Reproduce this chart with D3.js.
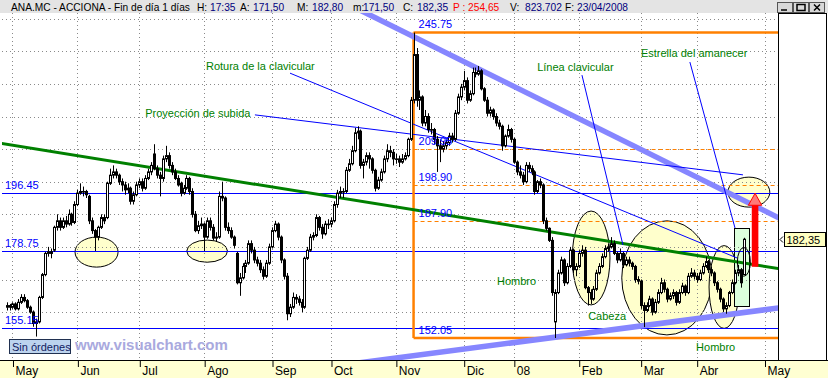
<!DOCTYPE html>
<html>
<head>
<meta charset="utf-8">
<script src="https://cdn.jsdelivr.net/npm/d3@7"></script>
<style>
body { margin: 0; background: #fff; }
svg { display: block; font-family: "Liberation Sans", Arial, sans-serif; }
</style>
</head>
<body>
<div id="chart"></div>
<script>
// ANA.MC daily candles, late Apr 2007 .. 23 Apr 2008
const monthLabels = ["May", "Jun", "Jul", "Ago", "Sep", "Oct", "Nov", "Dic", "08", "Feb", "Mar", "Abr", "May"];
const monthStarts = [2, 24, 45, 67, 90, 110, 132, 155, 172, 194, 215, 234, 257];
const priceTicks = [160, 170, 180, 190, 200, 210, 220, 230, 240, 250];

// [open, high, low, close]
const candles = [
  [161.5,163,160.5,162],[162,162.5,160.5,161.5],[161.5,163,161,162.5],[162.5,163,160.5,161],[161,164,160.5,163],
  [163,165.5,162.5,164.5],[164.5,165.5,163,163.5],[163.5,164,161,161.5],[161.5,162,159.5,160],[160,160.5,155.5,156.5],
  [156.5,158,152.5,157],[157,165,156.5,164.5],[164.5,172,164,171.5],[171.5,178.5,171,178],[178,180,177,178.5],
  [178.5,179.5,176.5,178],[179,186.5,178.5,186],[186,190,185,188],[188,189,185,186],[186,189,185.5,188],
  [188,189.5,186,187],[187,191.5,186.5,190],[190,190.5,186.5,187.5],[187.5,194,187,193],[193,197.5,192.5,196.5],
  [196.5,199.5,196,197],[197,198.5,195.5,197],[197,197.5,195,196],[195.5,196,187,188],[188,189,184,185],
  [185,185.5,178.75,183],[183,186.5,182,186],[186,190,185.5,189],[189,190,187,188],[189,200,188.5,199.5],
  [199.5,204,199,202],[202,205,201,203],[203,204,201,202],[202,202.5,199,200],[200,201,197,199],
  [199,200,196,197.5],[197.5,199.5,196.5,198],[198,198.5,193,194],[194,197,193,196],[196,200,195.5,199],
  [199,201,198,200],[200,201,197,198],[198,202,197.5,201],[201,204,200.5,203],[203,206,202,205],
  [208.5,211.5,203.5,204],[204,205,201,202],[202,203,195.5,201],[201,208,200,207],[207,211,206,208],
  [208,209,204,205],[205,206,202,203],[203,204,200.5,201],[201,202,198.5,199],[199.5,200,195.5,196.5],
  [196.5,199,196,198],[198,202,197.5,201],[201,201.5,196,197],[197,198,189,190],[190,191,184.5,185],
  [185,188,184,186.5],[186.5,189,185.5,187],[187,187.5,178.75,183],[183,189,182.5,188],[188,189,185,186],
  [186,187,182,182.7],[182.7,184.5,181.5,183],[183,197,182.5,195.5],[195.5,200,194,195],[195,195.5,185,186],
  [186,187.5,184,185],[185,186,182.5,183],[183,183.5,179.5,180.5],[178,178.5,168.5,169],[169,172,165,170.5],
  [170.5,175,170,174],[174,176,172,175],[175,182,174.5,181],[181,182,178,179],[179,180,175,176],
  [176,177,174,175],[175,176,172,173],[173,174,170,171],[171,176,170.5,175],[175,181,174.5,180],
  [180,186,179.5,185],[185,188,184.5,187],[187,187.5,182,183],[183,183.5,175,176],[176,176.5,170,171],
  [171,172,157.5,159.5],[159.5,162.5,158.5,161.5],[161.5,166,161,164.5],[164.5,165.5,162.5,164],[164,165,162,163],
  [163,164,160,161.5],[161.5,177,161,176.5],[176.5,180,176,179],[179,184,178.5,183],[183,184.5,182,183.5],
  [183.5,190,183,189],[189,189.5,185,186],[186,187,182.5,184],[184,188,183.5,187],[187,188.5,185.5,187],
  [187,189,186,188],[188,194,187.5,193],[193,197.5,192,196.5],[196.5,198.5,195,197],[197,198,195,197],
  [197,204.5,196.5,203.5],[203.5,207,203,205.5],[205.5,211,205,209.5],[209.5,216.5,209,215],[215,217,213,215.5],
  [215.5,216,204,205],[205,207,201,206],[206,209,205,208],[208,209,204,207],[207,207.5,202.5,203.5],
  [203.5,204,197,198],[198,201.5,197.5,200.5],[200.5,204,200,203],[203,208,202.5,207],[207,211.5,206,209.5],
  [209.5,211,207.5,209],[209,210,205,207],[207,208.5,205.5,207],[207,208,204.5,206],[206,208.5,205.5,207],
  [207,209,206.5,208],[208,213.5,207.5,213],[213,226,212.5,225],[225,245.75,224,239],[239,241,223,225],
  [225,228,222,226],[226,226.5,217,218],[218,222,217,220],[220,221,215,216],[216,218,214.5,216],
  [216,216.5,211.5,213],[213,214,203,211],[211,213,206,210],[210,212.5,209,211],[211,213,210,212],
  [212,215,211,214],[214,215,212,213],[213,222,212.5,221],[221,227,220.5,226],[226,230,225,229],
  [229,234,228,231],[231,232,224,225],[225,228,224.5,227],[227,235,226.5,233.5],[233.5,235,232,233],
  [233,235.5,232.5,234],[234,234.5,228,228.5],[228.5,229,224.5,225],[225,226,220,221],[221,223,220,222],
  [222,222.5,219,220],[220,221,217,218],[218,219,216,217],[217,217.5,209.5,211],[211,214.5,210.5,214],
  [214,217.5,213.5,216],[216,216.5,212,213],[213,213.5,205.5,206],[206,206.5,202,203],[203,205,201,202],
  [202,203,199,200],[200,206,199.5,205],[205,206,203,204],[204,205,202,203],[203,203.5,196,197],
  [197,200.5,196.5,200],[200,201,198,199],[199,199.5,187,188],[188,189,185,185.7],[185.7,186,181.5,182],
  [182,183,165,166],[157,167,152.05,166],[166,173,165.5,172],[172,177,171.5,176],[176,176.5,168,169],
  [169,175,168.5,174],[174,180,173.5,179],[179,179.5,172,173],[173,175,171,174],[174,179,173.5,178],
  [178,180.5,177,179],[179,180,167,167.5],[167.5,168,162,166],[166,167,162.5,164],[164,168,163.5,167],
  [167,173,166.5,172],[172,175,171.5,174],[174,178,173.5,177],[177,180.5,176.5,179.5],[179.5,181,178.5,180],
  [180,183,179.5,181],[181,182,177.5,178],[178,178.5,175,176],[176,179.5,175.5,178],[178,178.5,173.5,174.5],
  [174.5,177,174,176],[176,177,174,175],[175,175.5,173,174],[174,174.5,169,170],[170,171,168.5,169.5],
  [169.5,170,161,162],[162,163,155.4,160.5],[160.5,163,160,162],[162,165,161.5,164],[164,164.5,159,160],
  [160,164,159.5,163],[163,167,162.5,166],[166,170.5,165.5,169],[169,170,166,167],[167,167.5,163,164],
  [164,166,163.5,165],[165,167,164,166],[166,166.5,162,163],[163,167,162.5,166],[166,169,165.5,168],
  [168,168.5,165,166],[166,172,165.5,171],[171,173.5,170.5,172],[172,173,170,171],[171,172,169,170],
  [170,173,169.5,172],[172,175,171.5,174],[174,177,173.5,175.5],[175.5,176,172,173],[173,174,171,172],
  [172,172.5,168,169],[169,169.5,166,167],[167,167.5,163,164],[164,164.5,160,161],[161,163,159.5,162],
  [162,166.5,161.5,166],[166,170,165.5,169],[169,173,168.5,172],[172,174.5,171,173],[173,173.5,167.5,169],
  [171.5,182.8,171.5,182.35]
];

const lastClose = 182.35;
const quote = [["ANA.MC - ACCIONA - Fin de día 1 días", "k"], ["H:", "k"], ["17:35", "v"], ["A:", "k"], ["171,50", "v"],
  ["M:", "k"], ["182,80", "v"], ["m:", "k"], ["171,50", "v"], ["C:", "k"], ["182,35", "v"], ["P : 254,65", "r"],
  ["V:", "k"], ["823.702", "v"], ["F:", "k"], ["23/04/2008", "v"]];

// drawn studies, in (bar index, price)
const levels = [196.45, 178.75, 155.15];
const fibStart = 138;
const fibTop = 245.75;
const fibBottom = 152.05;
const fibLevels = [209.95, 198.90, 187.90];
const neckLine = [[0, 211.5], [260, 173.6]];
const thinLines = [
  [[84.2, 220.5], [249.7, 202.1]],
  [[96.1, 233.3], [247.7, 176.6]],
  [[195.1, 232.7], [209.0, 180.6]],
  [[231.7, 236.7], [247.0, 185.8]]
];
const channel = [
  [[126.6, 249.6], [261.2, 189.2]],
  [[180.9, 151.7], [261.2, 161.2]]
];
// [centre bar, centre price, half width in bars, half height in price]
const zones = [
  [30.5, 178.4, 7.3, 4.6], [68.0, 178.7, 6.9, 3.4], [198.2, 176.6, 6.4, 14.4],
  [223.9, 170.5, 15.3, 17.5], [243.3, 167.7, 5.1, 12.7], [251.7, 196.8, 7.1, 4.6]
];
const starZone = [250.0, 175.4, 2.2, 4.4];
const starBox = [246.8, 251.8, 161.9, 185.7];
const target = [253.8, 173.9, 196.45];
const notes = [
  ["Rotura de la clavicular", 67.6, 234.2],
  ["Proyección de subida", 47.0, 219.8],
  ["Línea clavicular", 179.9, 234.0],
  ["Estrella del amanecer", 215.1, 238.3],
  ["Hombro", 166.3, 168.3],
  ["Cabeza", 197.2, 157.6],
  ["Hombro", 233.8, 148.0]
];

const W = 828, H = 378;
const plot = { left: 2, right: 778, top: 13, bottom: 360 };

const svg = d3.select('#chart').append('svg')
  .attr('width', W).attr('height', H);

const x = d3.scaleLinear().domain([0, 257]).range([6.6, 764.5]);
const y = d3.scaleLinear().domain([160, 250]).range([312.1, 18.7]);

svg.append('defs').append('clipPath').attr('id', 'plotClip')
  .append('rect')
  .attr('x', plot.left).attr('y', plot.top)
  .attr('width', plot.right - plot.left).attr('height', plot.bottom - plot.top);

svg.append('rect').attr('width', W).attr('height', H).attr('fill', '#fff');

const body = svg.append('g').attr('clip-path', 'url(#plotClip)');
const px = v => Math.round(v) + 0.5;

// ellipses behind everything
body.append('g').selectAll('ellipse').data(zones).join('ellipse')
  .attr('cx', d => x(d[0])).attr('cy', d => y(d[1]))
  .attr('rx', d => x(d[0] + d[2]) - x(d[0]))
  .attr('ry', d => y(d[1] - d[3]) - y(d[1]))
  .attr('fill', '#ffffcc').attr('stroke', '#000').attr('stroke-width', 1);

body.append('rect')
  .attr('x', px(x(starBox[0]))).attr('y', px(y(starBox[3])))
  .attr('width', Math.round(x(starBox[1]) - x(starBox[0])))
  .attr('height', Math.round(y(starBox[2]) - y(starBox[3])))
  .attr('fill', '#dcffdc').attr('stroke', '#000');

// grid
const grid = body.append('g').attr('stroke', '#8a8a8a').attr('stroke-dasharray', '1,3');
grid.selectAll('line.h').data(priceTicks).join('line')
  .attr('x1', plot.left).attr('x2', plot.right)
  .attr('y1', d => px(y(d))).attr('y2', d => px(y(d)));
grid.selectAll('line.v').data(monthStarts).join('line')
  .attr('x1', d => px(x(d))).attr('x2', d => px(x(d)))
  .attr('y1', plot.top).attr('y2', plot.bottom);

// helper: stretch a two point line across the chart
function stretch(seg, i0, i1) {
  const [[a, pa], [b, pb]] = seg;
  const k = (pb - pa) / (b - a);
  return [[i0, pa + k * (i0 - a)], [i1, pa + k * (i1 - a)]];
}
const line = d3.line().x(d => x(d[0])).y(d => y(d[1]));

// support / resistance levels
body.append('g').selectAll('line').data(levels).join('line')
  .attr('x1', plot.left).attr('x2', plot.right)
  .attr('y1', d => px(y(d))).attr('y2', d => px(y(d)))
  .attr('stroke', '#0000ff');

// fibonacci box
const fib = body.append('g').attr('stroke', '#ff8000').attr('fill', 'none');
fib.selectAll('line.d').data(fibLevels).join('line')
  .attr('x1', x(fibStart)).attr('x2', plot.right)
  .attr('y1', d => px(y(d))).attr('y2', d => px(y(d)))
  .attr('stroke-dasharray', '4,3');
fib.append('path')
  .attr('d', line([[fibStart, fibTop], [300, fibTop]]))
  .attr('stroke-width', 2.5);
fib.append('path')
  .attr('d', line([[fibStart, fibBottom], [fibStart, fibTop]]))
  .attr('stroke-width', 2.5);
fib.append('path')
  .attr('d', line([[fibStart, fibBottom], [300, fibBottom]]))
  .attr('stroke-width', 2.5);

// channel
body.append('g').selectAll('path').data(channel).join('path')
  .attr('d', d => line(stretch(d, 100, 270)))
  .attr('fill', 'none').attr('stroke', '#8686ff').attr('stroke-width', 5.5);

// neckline
body.append('path').attr('d', line(stretch(neckLine, -5, 270)))
  .attr('fill', 'none').attr('stroke', '#008000').attr('stroke-width', 3);

// thin blue trendlines
body.append('g').selectAll('path').data(thinLines).join('path')
  .attr('d', d => line(d))
  .attr('fill', 'none').attr('stroke', '#0000ff').attr('stroke-width', 1);

// candles
const cx = i => Math.round(x(i));
const cg = body.append('g');
cg.selectAll('line').data(candles).join('line')
  .attr('x1', (d, i) => cx(i) + 0.5).attr('x2', (d, i) => cx(i) + 0.5)
  .attr('y1', d => y(d[1])).attr('y2', d => y(d[2]))
  .attr('stroke', '#000');
cg.selectAll('rect').data(candles).join('rect')
  .attr('x', (d, i) => cx(i) - 0.5).attr('width', 2)
  .attr('y', d => y(Math.max(d[0], d[3])))
  .attr('height', d => Math.max(0.6, Math.abs(y(d[0]) - y(d[3]))))
  .attr('fill', d => d[3] >= d[0] ? '#fff' : '#000')
  .attr('stroke', '#000').attr('stroke-width', 1);

body.append('ellipse')
  .attr('cx', x(starZone[0])).attr('cy', y(starZone[1]))
  .attr('rx', x(starZone[0] + starZone[2]) - x(starZone[0]))
  .attr('ry', y(starZone[1] - starZone[3]) - y(starZone[1]))
  .attr('fill', 'none').attr('stroke', '#000');

// level labels
const lab = body.append('g').attr('font-size', 11).attr('fill', '#0000ff');
lab.selectAll('text.l').data(levels).join('text')
  .attr('x', plot.left + 3).attr('y', d => y(d) - 4)
  .text(d => d.toFixed(2));
lab.selectAll('text.f').data([fibTop, ...fibLevels, fibBottom]).join('text')
  .attr('x', x(fibStart) + 5).attr('y', d => y(d) - 4.5)
  .text(d => d.toFixed(2));

// pattern notes
body.append('g').selectAll('text').data(notes).join('text')
  .attr('x', d => x(d[1])).attr('y', d => y(d[2]))
  .attr('font-size', 11).attr('fill', '#008000')
  .text(d => d[0]);

// target arrow
const ax = x(target[0]);
const tipY = y(target[2]);
body.append('rect')
  .attr('x', ax - 3.3).attr('y', tipY + 11)
  .attr('width', 6.6).attr('height', y(target[1]) - tipY - 11)
  .attr('fill', '#ff0000');
body.append('path')
  .attr('d', `M${ax - 6.7},${tipY + 12}L${ax},${tipY}L${ax + 6.7},${tipY + 12}Z`)
  .attr('fill', '#ff7878').attr('stroke', '#ff0000');

// watermark + status box
svg.append('text').attr('x', 75).attr('y', 349.5)
  .attr('font-size', 15).attr('font-weight', 'bold').attr('fill', '#a9a9de')
  .text('www.visualchart.com');
svg.append('rect').attr('x', 9.5).attr('y', 339.5).attr('width', 61).attr('height', 14)
  .attr('fill', '#bcd3ee').attr('stroke', '#203050');
svg.append('text').attr('x', 12).attr('y', 350.5).attr('font-size', 11).attr('fill', '#102060')
  .text('Sin órdenes');

// price axis panel
svg.append('rect').attr('x', plot.right).attr('y', plot.top).attr('width', W - plot.right).attr('height', plot.bottom - plot.top)
  .attr('fill', '#fff');
svg.append('defs').append('clipPath').attr('id', 'axisClip')
  .append('rect').attr('x', plot.right).attr('y', plot.top + 1).attr('width', 50).attr('height', plot.bottom - plot.top);
const yAxis = svg.append('g')
  .attr('transform', `translate(${plot.right + 0.5},0)`)
  .attr('clip-path', 'url(#axisClip)')
  .call(d3.axisRight(y).tickValues(priceTicks).tickSize(4).tickPadding(3)
    .tickFormat(d => d3.format('.2f')(d).replace('.', ',')));
yAxis.select('.domain').remove();
yAxis.selectAll('text').attr('font-size', 11).attr('fill', '#000080')
  .attr('font-family', '"Liberation Sans", Arial, sans-serif');
yAxis.selectAll('line').attr('stroke', '#000080');

svg.append('path')
  .attr('d', `M${plot.right + 0.5},${plot.top}V${plot.bottom}M${plot.right},${plot.top + 0.5}H${W - 1}M${W - 1.5},${plot.top}V${plot.bottom}`)
  .attr('stroke', '#000').attr('fill', 'none');

// last price flag (covers the 180,00 label, as in the platform)
const ly = Math.round(y(lastClose));
yAxis.selectAll('.tick').filter(d => Math.abs(y(d) - ly) < 12).select('text')
  .attr('clip-path', null);
svg.append('rect').attr('x', 784.5).attr('y', ly - 6.5).attr('width', 41).attr('height', 14)
  .attr('fill', '#ffffc0').attr('stroke', '#000');
svg.append('text').attr('x', 786.5).attr('y', ly + 4.5).attr('font-size', 11).attr('fill', '#000')
  .text(d3.format('.2f')(lastClose).replace('.', ','));
svg.append('path').attr('d', `M783,${ly - 2.5}L780,${ly + 0.5}L783,${ly + 3.5}`)
  .attr('stroke', '#000').attr('fill', 'none');

// time axis
svg.append('rect').attr('x', 0).attr('y', plot.bottom).attr('width', W).attr('height', H - plot.bottom)
  .attr('fill', '#ffffd2');
const xAxis = svg.append('g')
  .attr('transform', `translate(0.5,${plot.bottom})`)
  .call(d3.axisBottom(x).tickValues(monthStarts).tickSize(7).tickSizeOuter(0)
    .tickFormat((d, k) => monthLabels[k]));
xAxis.select('.domain').remove();
xAxis.selectAll('.tick line').attr('stroke', '#000');
xAxis.selectAll('.tick text')
  .attr('text-anchor', 'start').attr('x', 2).attr('y', 6).attr('dy', '0.71em')
  .attr('font-size', 12).attr('fill', '#000')
  .attr('font-family', '"Liberation Sans Narrow", "Liberation Sans", Arial, sans-serif');
svg.append('line').attr('x1', 0).attr('x2', W).attr('y1', plot.bottom + 0.5).attr('y2', plot.bottom + 0.5)
  .attr('stroke', '#000');

// title bar
svg.append('rect').attr('x', 0).attr('y', 0).attr('width', W).attr('height', plot.top)
  .attr('fill', '#e4e4e4');
const quoteX = [11, 197, 210, 240, 253, 297, 312, 353, 363, 403, 417, 453, 510, 525, 565, 577];
const colours = { k: '#000', v: '#000080', r: '#ff0000' };
svg.append('g').selectAll('text').data(quote).join('text')
  .attr('x', (d, k) => quoteX[k]).attr('y', 10.5)
  .attr('font-size', 10.2).attr('fill', d => colours[d[1]])
  .text(d => d[0]);

// window buttons
const btn = svg.append('g');
[777, 793, 809].forEach((bx, k) => {
  btn.append('rect').attr('x', bx + 0.5).attr('y', 2.5).attr('width', 15).attr('height', 10)
    .attr('fill', '#d8d8d8').attr('stroke', '#555');
  const g = btn.append('path').attr('stroke', '#000').attr('fill', 'none').attr('stroke-width', 1.5);
  if (k === 0) g.attr('d', `M${bx + 4},${10}H${bx + 10}`);
  if (k === 1) g.attr('d', `M${bx + 4},${4.5}H${bx + 12}V${10.5}H${bx + 4}Z`);
  if (k === 2) g.attr('d', `M${bx + 5},${4.5}L${bx + 11},${10.5}M${bx + 11},${4.5}L${bx + 5},${10.5}`);
});
</script>
</body>
</html>
